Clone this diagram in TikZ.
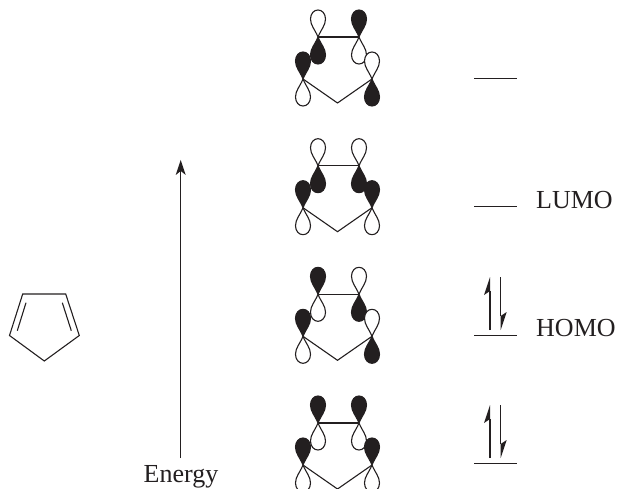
\documentclass[tikz,border=0pt]{standalone}
\usepackage{fontspec}
\setmainfont{Liberation Serif}
\usetikzlibrary{arrows.meta}
\definecolor{ink}{HTML}{231F20}
\tikzset{
  x=1pt,y=-1pt,
  bond/.style={draw=ink,line width=1.1pt,line join=miter},
  lobeline/.style={draw=ink,line width=1.1pt,line join=round},
  level/.style={draw=ink,line width=1.1pt},
  label/.style={font=\fontsize{26}{26}\selectfont,text=ink,inner sep=0pt},
  energyarrow/.style={draw=ink,line width=1.1pt,-{Stealth[length=15pt,width=10pt,inset=4pt,line width=0pt]}},
  spin/.style={draw=ink,line width=1.1pt,-{Stealth[harpoon,length=18pt,width=12pt,inset=4pt,line width=0pt]}},
}
% one lobe: #1 coordinate, #2 direction (-1 up, 1 down), #3 fill colour
\newcommand{\lobe}[3]{%
  \path[lobeline,fill=#3,shift={(#1)},yscale=#2]
    (0,0) .. controls (-3,7.5) and (-7.5,11.5) .. (-7.5,18)
    .. controls (-7.5,23.5) and (-4,27) .. (0,27)
    .. controls (4,27) and (7.5,23.5) .. (7.5,18)
    .. controls (7.5,11.5) and (3,7.5) .. (0,0) -- cycle;%
}
% molecule: #1 name, #2 y of top bond; then upper-lobe fill of TL, TR, L, R is given by #3..#6 (lower is the opposite)
\newcommand{\orbital}[6]{%
  \coordinate (#1tl) at (318,#2);
  \coordinate (#1tr) at (359,#2);
  \coordinate (#1l) at (303,#2+42);
  \coordinate (#1r) at (372,#2+42);
  \coordinate (#1b) at (337.5,#2+66);
  \draw[bond] (#1tl) -- (#1tr);
  \draw[bond] (#1l) -- (#1b) -- (#1r);
  \pair{#1tl}{#3}\pair{#1tr}{#4}\pair{#1l}{#5}\pair{#1r}{#6}%
}
\newcommand{\pair}[2]{%
  \ifx#2k\lobe{#1}{-1}{ink}\lobe{#1}{1}{white}\else\lobe{#1}{-1}{white}\lobe{#1}{1}{ink}\fi
}
\begin{document}
\begin{tikzpicture}
\useasboundingbox (0,0) rectangle (618,489);
\begin{scope}
\clip (0,0) rectangle (618,489);
\orbital{a}{37}{w}{k}{k}{w}
\orbital{b}{165.7}{w}{w}{k}{k}
\orbital{c}{294.3}{k}{w}{k}{w}
\orbital{d}{423}{k}{k}{k}{k}
\end{scope}

% cyclopentadiene
\coordinate (p1) at (22.7,294);
\coordinate (p2) at (65.7,294);
\coordinate (p3) at (79.3,335.5);
\coordinate (p4) at (44.3,361);
\coordinate (p5) at (9.5,335.5);
\coordinate (q1) at (26,302.7);
\coordinate (q2) at (17.3,330.7);
\coordinate (q3) at (62.3,302.7);
\coordinate (q4) at (71.3,330.7);
\draw[bond] (p1) -- (p2) -- (p3) -- (p4) -- (p5) -- cycle;
\draw[bond] (q1) -- (q2);
\draw[bond] (q3) -- (q4);

% energy axis
\node[label,anchor=base] (energy) at (181,482.5) {Energy};
\coordinate (e0) at (180.7,458);
\coordinate (e1) at (180.7,160);
\draw[energyarrow] (e0) -- (e1);

% levels
\foreach \n/\y in {la/78.5,lb/206.7,lc/335.7,ld/463.7}{
  \coordinate (\n1) at (474,\y);
  \coordinate (\n2) at (517,\y);
  \draw[level] (\n1) -- (\n2);
}
\node[label,anchor=base west] (lumo) at (536,208) {LUMO};
\node[label,anchor=base west] (homo) at (536,336) {HOMO};

% electrons
\foreach \n/\y in {c/0,d/128}{
  \coordinate (\n u0) at (490,330+\y);
  \coordinate (\n u1) at (490,277+\y);
  \coordinate (\n d0) at (500.7,277+\y);
  \coordinate (\n d1) at (500.7,330+\y);
  \draw[spin] (\n u0) -- (\n u1);
  \draw[spin] (\n d0) -- (\n d1);
}
\end{tikzpicture}
\end{document}
